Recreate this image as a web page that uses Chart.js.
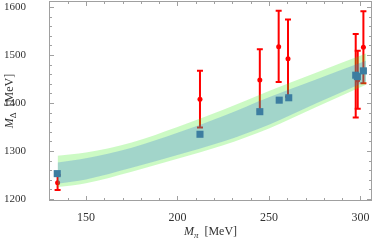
<!DOCTYPE html>
<html>
<head>
<meta charset="utf-8">
<script src="https://cdn.jsdelivr.net/npm/chart.js@4"></script>
<style>
  html, body { margin: 0; padding: 0; background: #fff; }
  #wrap { width: 374px; height: 240px; }
</style>
</head>
<body>
<div id="wrap"><canvas id="deltachart"></canvas></div>
<script>
// lattice values (blue squares)
var latX = [134.3, 212.3, 245, 255.6, 260.8, 297.4, 298.3, 301.6];
var latY = [1253, 1335, 1382, 1406, 1411, 1458, 1455, 1467];

// other determinations with error bars (red)
var expX  = [134.5, 212.3, 245, 255.3, 260.4, 297.4, 298.5, 301.6];
var expY  = [1234, 1408, 1448, 1517, 1492, 1457, 1448, 1516];
var expLo = [1219, 1349, 1384, 1444, 1413, 1370, 1388, 1441];
var expHi = [1250, 1467, 1512, 1592, 1574, 1544, 1509, 1591];

// fit bands
var bandX     = [134.5, 150, 175, 200, 225, 250, 275, 303];
var outerHi   = [1290, 1297, 1318, 1350, 1386, 1425, 1462, 1503];
var innerHi   = [1276, 1285, 1307, 1338, 1373, 1412, 1448, 1488];
var innerLo   = [1232, 1241, 1265, 1292, 1320, 1355, 1398, 1445];
var outerLo   = [1225, 1233, 1257, 1284, 1312, 1347, 1390, 1438];

var xTicks = [150, 200, 250, 300];
var yTicks = [1200, 1300, 1400, 1500, 1600];

function pts(xs, ys) {
	return xs.map(function(x, i) { return { x: x, y: ys[i] }; });
}

var serif = "'Liberation Serif', 'DejaVu Serif', serif";

var errorBars = {
	id: 'errorBars',
	beforeDatasetsDraw: function(chart) {
		var ctx = chart.ctx, xs = chart.scales.x, ys = chart.scales.y;
		ctx.save();
		ctx.strokeStyle = '#ff0000';
		ctx.lineWidth = 2;
		for (var i = 0; i < expX.length; i++) {
			var px = xs.getPixelForValue(expX[i]);
			var top = ys.getPixelForValue(expHi[i]);
			var bot = ys.getPixelForValue(expLo[i]);
			ctx.beginPath();
			ctx.moveTo(px, top); ctx.lineTo(px, bot);
			ctx.moveTo(px - 3, top); ctx.lineTo(px + 3, top);
			ctx.moveTo(px - 3, bot); ctx.lineTo(px + 3, bot);
			ctx.stroke();
		}
		ctx.restore();
	}
};

var frame = {
	id: 'frame',
	afterDraw: function(chart) {
		var ctx = chart.ctx, a = chart.chartArea, xs = chart.scales.x, ys = chart.scales.y;
		ctx.save();
		ctx.strokeStyle = '#a0a0a0';
		ctx.lineWidth = 1;
		ctx.strokeRect(a.left + 0.5, a.top + 0.5, a.right - a.left - 1, a.bottom - a.top - 1);
		ctx.beginPath();
		for (var v = 130; v <= 306; v += 10) {
			var px = Math.round(xs.getPixelForValue(v)) + 0.5;
			var len = (v % 50 === 0) ? 5 : 3;
			ctx.moveTo(px, a.bottom); ctx.lineTo(px, a.bottom - len);
			ctx.moveTo(px, a.top); ctx.lineTo(px, a.top + len);
		}
		for (var w = 1200; w <= 1612; w += 20) {
			var py = Math.round(ys.getPixelForValue(w)) + 0.5;
			var l2 = (w % 100 === 0) ? 5 : 3;
			ctx.moveTo(a.left, py); ctx.lineTo(a.left + l2, py);
			ctx.moveTo(a.right, py); ctx.lineTo(a.right - l2, py);
		}
		ctx.stroke();

		// axis titles
		ctx.fillStyle = '#333';
		ctx.textBaseline = 'alphabetic';
		drawTitle(ctx, (a.left + a.right) / 2, 235, '\u03c0');
		ctx.translate(13, (a.top + a.bottom) / 2);
		ctx.rotate(-Math.PI / 2);
		drawTitle(ctx, 0, 0, '\u0394');
		ctx.restore();
	}
};

function drawTitle(ctx, cx, by, sub) {
	var subFont = (sub === '\u03c0' ? 'italic ' : '') + '9px ' + serif;
	ctx.font = 'italic 12px ' + serif;
	var wM = ctx.measureText('M').width;
	ctx.font = subFont;
	var wS = ctx.measureText(sub).width;
	ctx.font = '12px ' + serif;
	var rest = '  [MeV]';
	var wR = ctx.measureText(rest).width;
	var x0 = cx - (wM + wS + wR) / 2;
	ctx.textAlign = 'left';
	ctx.font = 'italic 12px ' + serif;
	ctx.fillText('M', x0, by);
	ctx.font = subFont;
	ctx.fillText(sub, x0 + wM, by + 3);
	ctx.font = '12px ' + serif;
	ctx.fillText(rest, x0 + wM + wS, by);
}

function noPad(s) {
	s.paddingLeft = 0; s.paddingRight = 0; s.paddingTop = 0; s.paddingBottom = 0;
}

new Chart(document.getElementById('deltachart'), {
	type: 'scatter',
	data: {
		datasets: [{
			label: 'lattice',
			data: pts(latX, latY),
			pointStyle: 'rect',
			pointRadius: 5,
			backgroundColor: '#3c7da0',
			borderColor: '#3c7da0',
			borderWidth: 0,
			order: 0
		}, {
			type: 'line',
			label: 'inner upper',
			data: pts(bandX, innerHi),
			fill: '+1',
			backgroundColor: 'rgba(40,102,224,0.25)',
			borderWidth: 0,
			pointRadius: 0,
			cubicInterpolationMode: 'monotone',
			order: 1
		}, {
			type: 'line',
			label: 'inner lower',
			data: pts(bandX, innerLo),
			fill: false,
			borderWidth: 0,
			pointRadius: 0,
			cubicInterpolationMode: 'monotone',
			order: 1
		}, {
			type: 'line',
			label: 'outer upper',
			data: pts(bandX, outerHi),
			fill: '+1',
			backgroundColor: 'rgba(52,236,20,0.25)',
			borderWidth: 0,
			pointRadius: 0,
			cubicInterpolationMode: 'monotone',
			order: 2
		}, {
			type: 'line',
			label: 'outer lower',
			data: pts(bandX, outerLo),
			fill: false,
			borderWidth: 0,
			pointRadius: 0,
			cubicInterpolationMode: 'monotone',
			order: 2
		}, {
			label: 'other',
			data: pts(expX, expY),
			pointRadius: 2.5,
			backgroundColor: '#ff0000',
			borderWidth: 0,
			order: 3
		}]
	},
	options: {
		responsive: true,
		maintainAspectRatio: false,
		animation: false,
		layout: { autoPadding: false, padding: { top: 1, right: 2, left: 0, bottom: 0 } },
		plugins: { legend: { display: false }, tooltip: { enabled: false } },
		scales: {
			x: {
				type: 'linear',
				min: 129.8,
				max: 306.3,
				afterBuildTicks: function(s) { s.ticks = xTicks.map(function(v) { return { value: v }; }); },
				afterFit: function(s) { s.height = 39; noPad(s); },
				grid: { display: false },
				border: { display: false },
				ticks: { color: '#333', padding: 2, font: { family: serif, size: 12 },
					callback: function(v) { return String(v); } }
			},
			y: {
				type: 'linear',
				min: 1196,
				max: 1612.5,
				afterBuildTicks: function(s) { s.ticks = yTicks.map(function(v) { return { value: v }; }); },
				afterFit: function(s) { s.width = 49; noPad(s); },
				grid: { display: false },
				border: { display: false },
				ticks: { color: '#333', padding: 15, font: { family: serif, size: 11 },
					callback: function(v) { return String(v); } }
			}
		}
	},
	plugins: [errorBars, frame]
});
</script>
</body>
</html>
